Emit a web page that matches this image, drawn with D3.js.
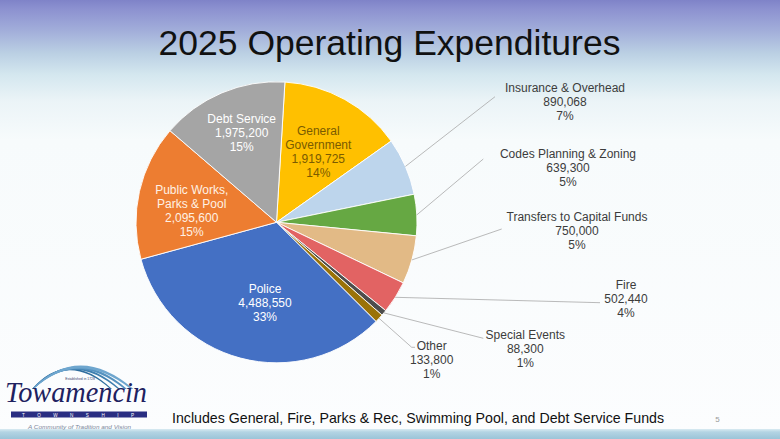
<!DOCTYPE html>
<html>
<head>
<meta charset="utf-8">
<script src="https://cdn.jsdelivr.net/npm/d3@7"></script>
<style>
  html, body { margin: 0; padding: 0; background: #fff; }
  svg { display: block; }
</style>
</head>
<body>
<svg id="chart" width="780" height="439"></svg>
<script>
// ---- data ----
const categories = [
  "General\nGovernment",
  "Insurance & Overhead",
  "Codes Planning & Zoning",
  "Transfers to Capital Funds",
  "Fire",
  "Special Events",
  "Other",
  "Police",
  "Public Works,\nParks & Pool",
  "Debt Service"
];
const values = [1919725, 890068, 639300, 750000, 502440, 88300, 133800, 4488550, 2095600, 1975200];
const percentLabels = ["14%", "7%", "5%", "5%", "4%", "1%", "1%", "33%", "15%", "15%"];
const sliceColors = ["#FFC000", "#BDD5EC", "#66A843", "#E2BA86", "#E26363", "#4D4D4D", "#9A7208", "#4470C4", "#ED7D31", "#A5A5A5"];
const titleText = "2025 Operating Expenditures";
const footnoteText = "Includes General, Fire, Parks & Rec, Swimming Pool, and Debt Service Funds";

// ---- layout (positions only, not data) ----
const W = 780, H = 439;
const cx = 276.5, cy = 222.3, R = 140.5;
const rotation = 0.060; // radians, first slice starts just right of 12 o'clock
const labelLayout = {
  "General\nGovernment":        { x: 318.3, y: 135.0, fill: "#7A5B00", inside: true },
  "Insurance & Overhead":       { x: 565.0, y: 91.5,  end: [495, 96.7] },
  "Codes Planning & Zoning":    { x: 568.0, y: 158.3, end: [483.3, 159] },
  "Transfers to Capital Funds": { x: 577.0, y: 220.7, end: [501.7, 229] },
  "Fire":                       { x: 626.0, y: 289.0, end: [600, 302.7] },
  "Special Events":             { x: 525.3, y: 339.0, end: [483.3, 338.3] },
  "Other":                      { x: 431.7, y: 350.0, end: [411.7, 347.3], tail: [415, 347.3] },
  "Police":                     { x: 265.0, y: 292.7, fill: "#FFFFFF", inside: true },
  "Public Works,\nParks & Pool":{ x: 191.7, y: 194.3, fill: "#FFF1E4", inside: true },
  "Debt Service":               { x: 241.7, y: 122.7, fill: "#FFFFFF", inside: true }
};
const lineGap = 14;
const FONT = "'Liberation Sans', Arial, Helvetica, sans-serif";

const svg = d3.select("#chart");
const defs = svg.append("defs");

// background gradients
const bg = defs.append("linearGradient").attr("id", "bg").attr("x1", 0).attr("y1", 0).attr("x2", 0).attr("y2", 1);
[[0, "#7F83C8"], [0.02, "#8C91D0"], [0.07, "#A2AEDA"], [0.12, "#BACFE3"], [0.17, "#D4E7EF"], [0.23, "#EBF4F7"], [0.32, "#F7FBFC"], [1, "#FCFDFE"]]
  .forEach(([o, c]) => bg.append("stop").attr("offset", o).attr("stop-color", c));
svg.append("rect").attr("width", W).attr("height", H).attr("fill", "url(#bg)");

const band = defs.append("linearGradient").attr("id", "band").attr("x1", 0).attr("y1", 0).attr("x2", 0).attr("y2", 1);
[[0, "#D9EBF2"], [0.3, "#B3D4E3"], [1, "#9BC4D8"]]
  .forEach(([o, c]) => band.append("stop").attr("offset", o).attr("stop-color", c));
svg.append("rect").attr("x", 0).attr("y", 429).attr("width", W).attr("height", 10).attr("fill", "url(#band)");

// title
svg.append("text")
  .attr("x", 389.5).attr("y", 55)
  .attr("text-anchor", "middle")
  .attr("font-family", FONT).attr("font-size", 35.5)
  .attr("fill", "#111")
  .text(titleText);

// pie
const pie = d3.pie().sort(null).value(d => d.value)
  .startAngle(rotation).endAngle(rotation + 2 * Math.PI);
const data = categories.map((c, i) => ({ name: c, value: values[i], pct: percentLabels[i], color: sliceColors[i] }));
const arcs = pie(data);
const arcGen = d3.arc().innerRadius(0).outerRadius(R);

const g = svg.append("g").attr("transform", `translate(${cx},${cy})`);
g.selectAll("path.slice").data(arcs).join("path")
  .attr("class", "slice")
  .attr("d", arcGen)
  .attr("fill", d => d.data.color)
  .attr("stroke", "#fff")
  .attr("stroke-width", 0.9)
  .attr("stroke-linejoin", "round");

// leader lines
const fmt = d3.format(",");
arcs.forEach(a => {
  const L = labelLayout[a.data.name];
  if (L.inside) return;
  const mid = (a.startAngle + a.endAngle) / 2;
  const sx = cx + R * Math.sin(mid), sy = cy - R * Math.cos(mid);
  const pts = [[sx, sy], L.end];
  if (L.tail) pts.push(L.tail);
  svg.append("path")
    .attr("d", d3.line()(pts))
    .attr("fill", "none")
    .attr("stroke", "#A8A8A8")
    .attr("stroke-width", 0.8);
});

// labels
arcs.forEach(a => {
  const L = labelLayout[a.data.name];
  const lines = a.data.name.split("\n").concat([fmt(a.data.value), a.data.pct]);
  const t = svg.append("text")
    .attr("text-anchor", "middle")
    .attr("font-family", FONT).attr("font-size", 12)
    .attr("fill", L.inside ? L.fill : "#3C3C3C");
  lines.forEach((ln, i) => {
    t.append("tspan").attr("x", L.x).attr("y", L.y + i * lineGap).text(ln);
  });
});

// footnote
svg.append("text")
  .attr("x", 172).attr("y", 423)
  .attr("font-family", FONT).attr("font-size", 14.2)
  .attr("fill", "#111")
  .text(footnoteText);
svg.append("text")
  .attr("x", 717.5).attr("y", 421.5)
  .attr("text-anchor", "middle")
  .attr("font-family", FONT).attr("font-size", 8)
  .attr("fill", "#9A9A9A")
  .text("5");

// logo
const logo = svg.append("g");
const swoosh = [
  { end: 112, peak: 368.5, w: 1.6, c: "#2F6E9E" },
  { end: 120, peak: 367.5, w: 2.0, c: "#3F7FAF" },
  { end: 127, peak: 366.5, w: 2.4, c: "#5592BF" },
  { end: 133.5, peak: 365.5, w: 2.8, c: "#6EA6CE" }
];
const x0 = 32, yb = 389;
swoosh.forEach(s => {
  const qx = (x0 + s.end) / 2 - 4;
  const qy = 2 * s.peak - yb;
  const p = d3.path();
  p.moveTo(x0, yb);
  p.quadraticCurveTo(qx, qy, s.end, yb);
  p.lineTo(s.end - s.w, yb);
  p.quadraticCurveTo(qx, qy + s.w * 2.2, x0 + 1.5, yb);
  p.closePath();
  logo.append("path").attr("d", p.toString()).attr("fill", s.c);
});
logo.append("text").attr("x", 80).attr("y", 379.5).attr("text-anchor", "middle")
  .attr("font-family", FONT).attr("font-size", 3.4).attr("fill", "#3A3F6A").text("Established in 1728");
logo.append("text").attr("x", 5).attr("y", 402)
  .attr("font-family", "'Liberation Serif', 'DejaVu Serif', serif").attr("font-style", "italic")
  .attr("font-size", 30).attr("fill", "#1E2160")
  .attr("textLength", 142).attr("lengthAdjust", "spacingAndGlyphs")
  .text("Towamencin");
logo.append("rect").attr("x", 11).attr("y", 411.5).attr("width", 136).attr("height", 6).attr("fill", "#2A2E82");
logo.append("text").attr("x", 22).attr("y", 416.6)
  .attr("font-family", FONT).attr("font-size", 4.6).attr("fill", "#fff")
  .attr("textLength", 112).attr("lengthAdjust", "spacing")
  .text("TOWNSHIP");
logo.append("text").attr("x", 79.5).attr("y", 428.5).attr("text-anchor", "middle")
  .attr("font-family", FONT).attr("font-style", "italic").attr("font-size", 5.6).attr("fill", "#7C889C")
  .attr("textLength", 103).attr("lengthAdjust", "spacingAndGlyphs")
  .text("A Community of Tradition and Vision");
</script>
</body>
</html>
